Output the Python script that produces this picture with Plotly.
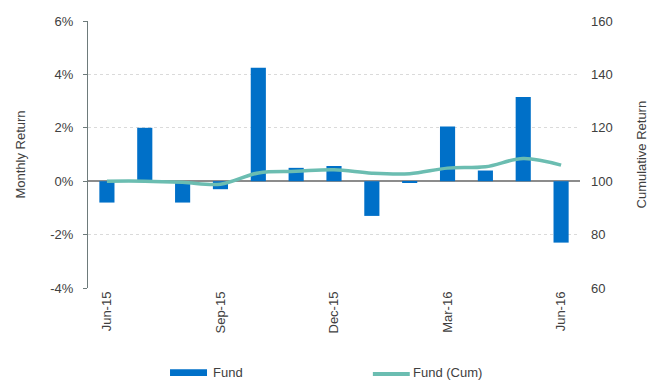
import plotly.graph_objects as go

# Monthly fund returns and cumulative index (base 100)
months = ["Jun-15", "Jul-15", "Aug-15", "Sep-15", "Oct-15", "Nov-15", "Dec-15",
          "Jan-16", "Feb-16", "Mar-16", "Apr-16", "May-16", "Jun-16"]
monthly_return = [-0.008, 0.020, -0.008, -0.003, 0.0425, 0.005, 0.0057,
                  -0.013, -0.0005, 0.0205, 0.004, 0.0315, -0.023]
cumulative = [100.0, 100.0, 99.6, 98.9, 103.1, 103.7, 104.3,
              103.0, 102.8, 104.9, 105.4, 108.5, 106.0]
tick_labels = ["Jun-15", "Sep-15", "Dec-15", "Mar-16", "Jun-16"]
return_ticks = [-0.04, -0.02, 0.0, 0.02, 0.04, 0.06]
return_tick_text = ["-4%", "-2%", "0%", "2%", "4%", "6%"]

BAR_COLOR = "#0070C8"
LINE_COLOR = "#6BBDB1"
TEXT_COLOR = "#404040"
FONT = "Liberation Sans, Arial, sans-serif"
FS = 13

fig = go.Figure()
fig.add_trace(go.Bar(
    x=months, y=monthly_return, name="Fund",
    marker=dict(color=BAR_COLOR, line=dict(width=0)),
    width=0.4, showlegend=False,
))
fig.add_trace(go.Scatter(
    x=months, y=cumulative, name="Fund (Cum)", yaxis="y2",
    mode="lines", line=dict(color=LINE_COLOR, width=3.5, shape="spline", smoothing=1.0),
    showlegend=False,
))

fig.update_layout(
    width=649, height=381,
    margin=dict(l=88, r=69, t=21, b=93),
    paper_bgcolor="white", plot_bgcolor="white",
    font=dict(family=FONT, size=FS, color=TEXT_COLOR),
    xaxis=dict(
        type="category", tickmode="array", tickvals=tick_labels, ticktext=tick_labels,
        tickangle=-90, showgrid=False, showline=False, ticks="",
        tickfont=dict(size=FS, color=TEXT_COLOR), range=[-0.5, 12.5],
    ),
    yaxis=dict(
        range=[-0.04, 0.06], tickmode="array",
        tickvals=return_ticks, ticktext=return_tick_text,
        showgrid=True, gridcolor="#DADADA", griddash="dot", gridwidth=1,
        zeroline=True, zerolinecolor="#8C8C8C", zerolinewidth=1.5,
        showline=True, linecolor="#6E7B7B", linewidth=1,
        ticks="outside", ticklen=4, tickcolor="#6E7B7B",
        ticklabelstandoff=7,
        tickfont=dict(size=FS, color=TEXT_COLOR),
    ),
    yaxis2=dict(
        overlaying="y", side="right", range=[60, 160], dtick=20,
        showgrid=False, zeroline=False, showline=False, ticks="",
        ticklabelstandoff=10,
        tickfont=dict(size=FS, color=TEXT_COLOR),
    ),
)

# Axis titles
fig.add_annotation(text="Monthly Return", xref="paper", yref="paper",
                   x=-0.138, y=0.5, textangle=-90, showarrow=False,
                   xanchor="center", yanchor="middle",
                   font=dict(size=FS, color=TEXT_COLOR))
fig.add_annotation(text="Cumulative Return", xref="paper", yref="paper",
                   x=1.126, y=0.5, textangle=-90, showarrow=False,
                   xanchor="center", yanchor="middle",
                   font=dict(size=FS, color=TEXT_COLOR))

# Legend drawn along the bottom
LEG_Y = -0.318
fig.add_shape(type="rect", xref="paper", yref="paper",
              x0=0.1667, x1=0.2419, y0=-0.330, y1=-0.304,
              fillcolor=BAR_COLOR, line=dict(width=0))
fig.add_annotation(text="Fund", xref="paper", yref="paper",
                   x=0.250, y=LEG_Y, showarrow=False,
                   xanchor="left", yanchor="middle",
                   font=dict(size=FS, color=TEXT_COLOR))
fig.add_shape(type="line", xref="paper", yref="paper",
              x0=0.579, x1=0.654, y0=LEG_Y - 0.004, y1=LEG_Y - 0.004,
              line=dict(color=LINE_COLOR, width=4))
fig.add_annotation(text="Fund (Cum)", xref="paper", yref="paper",
                   x=0.6575, y=LEG_Y, showarrow=False,
                   xanchor="left", yanchor="middle",
                   font=dict(size=FS, color=TEXT_COLOR))

fig.write_html("out.html")
